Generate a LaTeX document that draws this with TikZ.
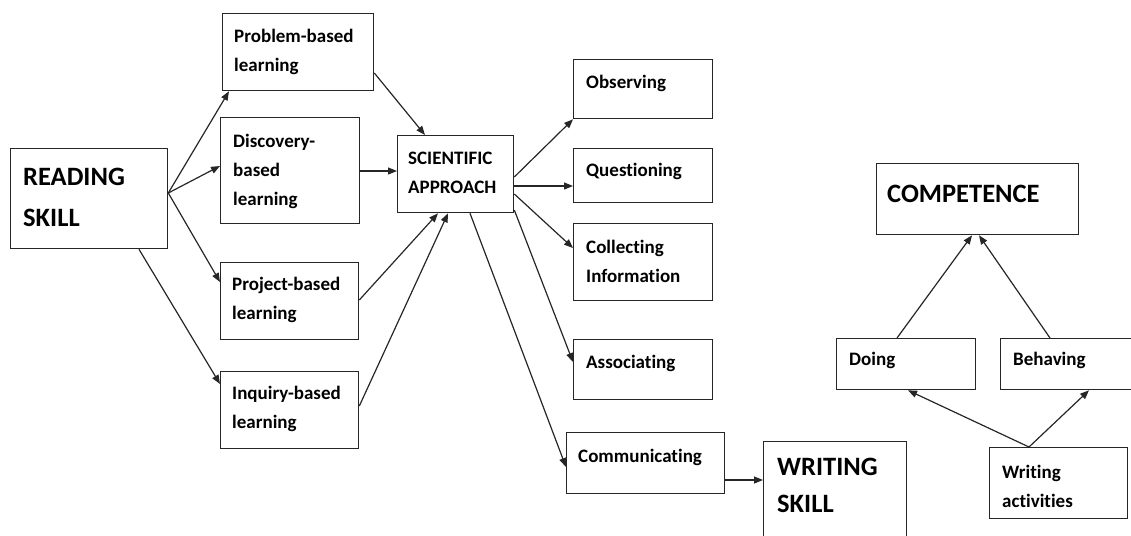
\documentclass[tikz,border=0pt]{standalone}
\usepackage{fontspec}
\setmainfont{Carlito}[Ligatures={NoCommon,NoContextual,NoRare,NoRequired},Contextuals=NoAlternate]
\usetikzlibrary{arrows.meta,calc}

\begin{document}
\begin{tikzpicture}[x=1pt,y=-1pt,
  box/.style={draw=black!85,line width=1.3pt,inner sep=0pt,anchor=north west},
  txt/.style={inner sep=0pt,anchor=base west,align=left,text width=160pt,
    font=\bfseries\fontsize{19}{29}\selectfont},
  bigtxt/.style={inner sep=0pt,anchor=base west,align=left,text width=200pt,
    font=\bfseries\fontsize{26.5}{41}\selectfont},
  link/.style={draw=black!85,line width=1.2pt,-{Triangle[length=9pt,width=7pt]}}]

\useasboundingbox (0,0) rectangle (1131,535);

% boxes
\node[box,minimum width=157pt,minimum height=100pt] (rs) at (10,148) {};
\node[box,minimum width=151pt,minimum height=77pt] (pbl) at (222,13) {};
\node[box,minimum width=139pt,minimum height=106pt] (dbl) at (220,117) {};
\node[box,minimum width=138pt,minimum height=77pt] (pjbl) at (220,262) {};
\node[box,minimum width=138pt,minimum height=77pt] (ibl) at (220,371) {};
\node[box,minimum width=116pt,minimum height=77pt] (sa) at (397,135) {};
\node[box,minimum width=139pt,minimum height=59pt] (obs) at (573,59) {};
\node[box,minimum width=139pt,minimum height=54pt] (que) at (573,148) {};
\node[box,minimum width=139pt,minimum height=77pt] (col) at (573,223) {};
\node[box,minimum width=139pt,minimum height=60pt] (ass) at (573,339) {};
\node[box,minimum width=158pt,minimum height=61pt] (com) at (566,432) {};
\node[box,minimum width=143pt,minimum height=110pt] (ws) at (763,441) {};
\node[box,minimum width=202pt,minimum height=71pt] (comp) at (876,163) {};
\node[box,minimum width=139pt,minimum height=51pt] (doing) at (836,338) {};
\node[box,minimum width=132pt,minimum height=51pt] (beh) at (1000,338) {};
\node[box,minimum width=138pt,minimum height=71pt] (wa) at (989,447) {};

% labels
\node[bigtxt] (rs-t) at (23,185) {READING\\SKILL};
\node[txt] (pbl-t) at (234,42) {Problem-based\\learning};
\node[txt] (dbl-t) at (233,147) {Discovery-\\based\\learning};
\node[txt] (pjbl-t) at (232,290) {Project-based\\learning};
\node[txt] (ibl-t) at (232,399) {Inquiry-based\\learning};
\node[txt] (sa-t) at (408,164) {SCIENTIFIC\\APPROACH};
\node[txt] (obs-t) at (586,88) {Observing};
\node[txt] (que-t) at (586,176) {Questioning};
\node[txt] (col-t) at (586,253) {Collecting\\Information};
\node[txt] (ass-t) at (586,368) {Associating};
\node[txt] (com-t) at (578,462) {Communicating};
\node[bigtxt,font=\bfseries\fontsize{26.5}{37}\selectfont] (ws-t) at (777,475) {WRITING\\SKILL};
\node[bigtxt] (comp-t) at (887,202) {COMPETENCE};
\node[txt] (doing-t) at (849,365) {Doing};
\node[txt] (beh-t) at (1013,365) {Behaving};
\node[txt] (wa-t) at (1002,478) {Writing\\activities};

% reading skill to the learning models
\draw[link] ($(rs.north east)+(0,45)$) -- ($(pbl.south west)+(7,0)$);
\draw[link] ($(rs.north east)+(0,45)$) -- ($(dbl.north west)+(0,49)$);
\draw[link] ($(rs.north east)+(0,45)$) -- ($(pjbl.north west)+(0,20)$);
\draw[link] ($(rs.south west)+(129,0)$) -- ($(ibl.north west)+(0,13)$);

% learning models to the scientific approach
\draw[link] ($(pbl.north east)+(0,60)$) -- ($(sa.north west)+(28,0)$);
\draw[link] ($(dbl.north east)+(0,54)$) -- ($(sa.north west)+(0,36)$);
\draw[link] ($(pjbl.north east)+(0,38)$) -- ($(sa.south west)+(41,0)$);
\draw[link] ($(ibl.north east)+(0,35)$) -- ($(sa.south west)+(51,0)$);

% scientific approach steps
\draw[link] ($(sa.north east)+(0,42)$) -- (obs.south west);
\draw[link] ($(sa.north east)+(0,51)$) -- ($(que.north west)+(0,38)$);
\draw[link] ($(sa.north east)+(0,59)$) -- ($(col.north west)+(0,25)$);
\draw[link] ($(sa.north east)+(0,75)$) -- ($(ass.north west)+(0,23)$);
\draw[link] ($(sa.south west)+(73,0)$) -- ($(com.north west)+(0,35)$);
\draw[link] ($(com.north east)+(0,48)$) -- ($(ws.north west)+(0,39)$);

% competence
\draw[link] ($(doing.north west)+(61,0)$) -- ($(comp.south west)+(96,0)$);
\draw[link] ($(beh.north west)+(50,0)$) -- ($(comp.south west)+(103,0)$);
\draw[link] ($(wa.north west)+(40,0)$) -- ($(doing.south west)+(72,0)$);
\draw[link] ($(wa.north west)+(40,0)$) -- ($(beh.south west)+(89,0)$);
\end{tikzpicture}
\end{document}
